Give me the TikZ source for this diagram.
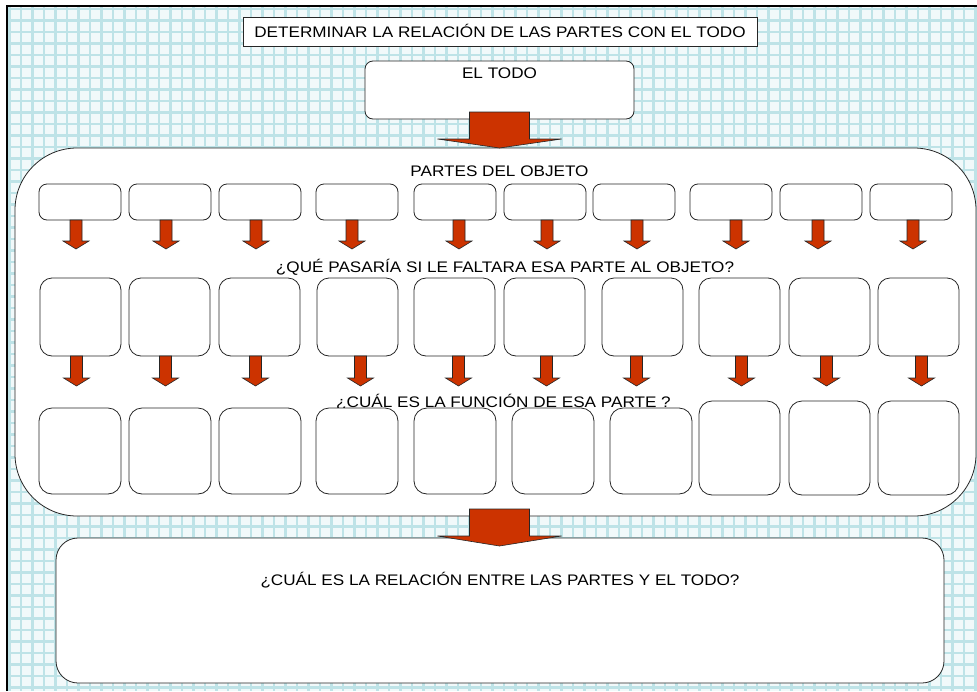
\documentclass[tikz,border=0pt]{standalone}
\usepackage{fontspec}
\setmainfont{Liberation Sans}[FakeStretch=1.12]
\usetikzlibrary{calc,positioning}

\definecolor{gridcyan}{RGB}{190,227,231}
\definecolor{paper}{RGB}{241,249,250}
\definecolor{arrowred}{RGB}{204,51,0}

% block arrow: start, shaft half width, shaft length, head half width, head length, style
\newcommand{\blockarrow}[6]{%
  \draw[#6] ($#1+(-#2,0)$) -- ++(0,#3) -- ++(#2-#4,0) -- ++(#4,#5)
    -- ++(#4,-#5) -- ++(#2-#4,0) -- ++(0,-#3) -- cycle;}

\begin{document}
\begin{tikzpicture}[x=1pt,y=-1pt,
  txt/.style={font=\fontsize{15.3}{17}\selectfont, anchor=base, inner sep=0pt},
  box/.style={draw=black!85, fill=white, line width=0.8pt, rounded corners=#1,
    anchor=north west, inner sep=0pt, outer sep=0pt},
  box/.default=10,
  arrowfill/.style={fill=arrowred, draw=black!85, line width=0.6pt}]
  \useasboundingbox (0,0) rectangle (977,691);

  % Grid paper
  \fill[paper] (7,6) rectangle (977,691);
  \foreach \x in {9.5,21,...,977} \draw[gridcyan, line width=2.2pt] (\x,6) -- (\x,691);
  \foreach \y in {9,20.5,...,691} \draw[gridcyan, line width=2.2pt] (7,\y) -- (977,\y);
  \draw[line width=1.1pt] (7,691) -- (7,6) -- (977,6);

  % Title and whole
  \node[draw=black!85, fill=white, line width=0.8pt, minimum width=514, minimum height=29,
    text height=11, text depth=0, inner sep=0pt, font=\fontsize{15.3}{17}\selectfont]
    (title) at (500,31.5) {DETERMINAR LA RELACIÓN DE LAS PARTES CON EL TODO};
  \node[box=8, minimum width=269, minimum height=58] (todo) at (365,61) {};
  \node[txt] (todolbl) at ($(todo.north)+(0,17)$) {EL TODO};

  % Parts of the object
  \node[box=62, minimum width=961, minimum height=368] (cont) at (15,148) {};
  \node[txt] (partes) at (499.5,176) {PARTES DEL OBJETO};
  \node[txt] (falta) at (505,272) {¿QUÉ PASARÍA SI LE FALTARA ESA PARTE AL OBJETO?};
  \node[txt] (funcion) at (503.5,407) {¿CUÁL ES LA FUNCIÓN DE ESA PARTE ?};

  \foreach \n/\xl in {1/39,2/129,3/219,4/316,5/414,6/504,7/593,8/690,9/780,10/870}
    \node[box=8, minimum width=82, minimum height=36] (r1b\n) at (\xl,184) {};
  \foreach \n/\xl in {1/40,2/129,3/219,4/317,5/414,6/504,7/602,8/699,9/789,10/878}
    \node[box=12, minimum width=81, minimum height=78] (r2b\n) at (\xl,278) {};
  \foreach \n/\xl in {1/39,2/129,3/219,4/316,5/414,6/512,7/610}
    \node[box=13, minimum width=82, minimum height=86] (r3b\n) at (\xl,408) {};
  \foreach \n/\xl in {8/699,9/789,10/878}
    \node[box=13, minimum width=81, minimum height=94] (r3b\n) at (\xl,401) {};

  % Relation
  \node[box=22, minimum width=888, minimum height=145] (rel) at (56,538) {};
  \node[txt] (rellbl) at ($(rel.north)+(0,47)$) {¿CUÁL ES LA RELACIÓN ENTRE LAS PARTES Y EL TODO?};

  % Arrows
  \blockarrow{(todo.south)+(0,-7)}{30}{27}{62}{9}{arrowfill}
  \foreach \n/\dx in {1/-4,2/-4,3/-4,4/-5,5/4,6/2,7/3,8/5,9/-3,10/2}
    {\blockarrow{(r1b\n.south)+(\dx,0)}{6}{21}{13}{8}{arrowfill}}
  \foreach \n/\dx in {1/-4,2/-4,3/-4,4/3,5/4,6/2,7/-6,8/2,9/-3,10/3}
    {\blockarrow{(r2b\n.south)+(\dx,0)}{6}{22}{13}{8}{arrowfill}}
  \blockarrow{(todo.south |- cont.south)+(0,-7)}{30}{27}{62}{10}{arrowfill}
\end{tikzpicture}
\end{document}
